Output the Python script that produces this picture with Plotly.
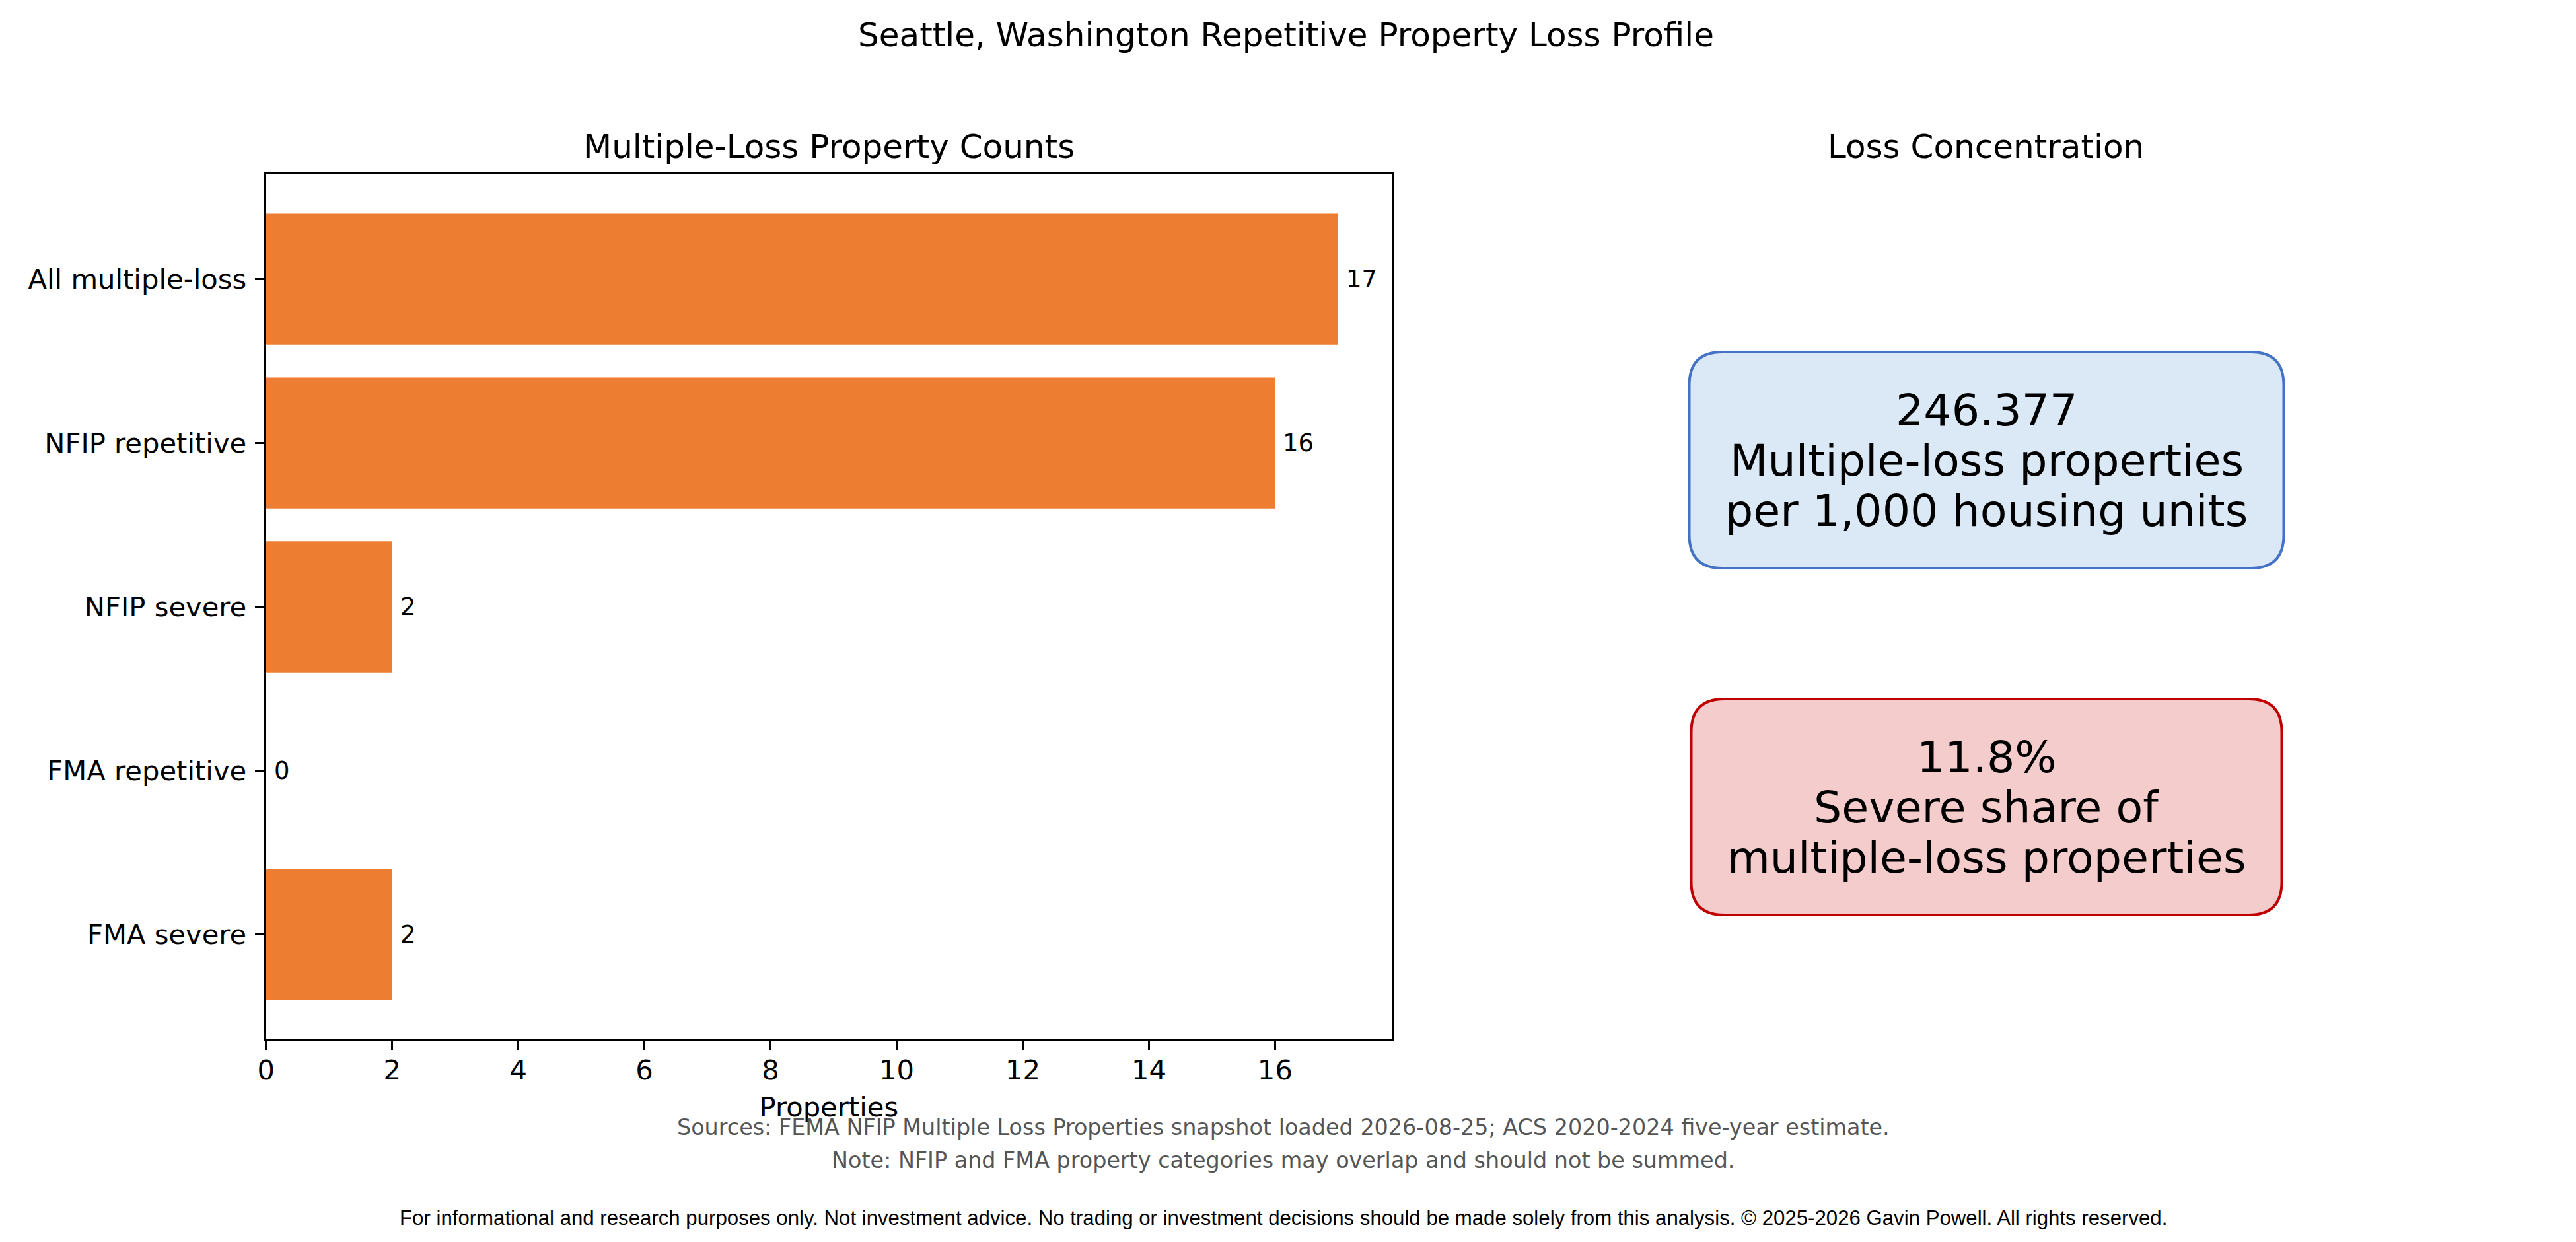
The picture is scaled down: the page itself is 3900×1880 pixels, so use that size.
import plotly.graph_objects as go

W, H = 3900, 1880
# the page puts the figure a little right/down of the window corner; compensate
OX, OY = 22, 10

# ---- data ----
categories = ["All multiple-loss", "NFIP repetitive", "NFIP severe", "FMA repetitive", "FMA severe"]
counts = [17, 16, 2, 0, 2]
x_ticks = [0, 2, 4, 6, 8, 10, 12, 14, 16]

kpi_values = ["246.377", "11.8%"]
kpi_labels = [["Multiple-loss properties", "per 1,000 housing units"],
              ["Severe share of", "multiple-loss properties"]]

title = "Seattle, Washington Repetitive Property Loss Profile"
sources_note = "Sources: FEMA NFIP Multiple Loss Properties snapshot loaded 2026-08-25; ACS 2020-2024 five-year estimate."
overlap_note = "Note: NFIP and FMA property categories may overlap and should not be summed."
disclaimer = ("For informational and research purposes only. Not investment advice. No trading or investment "
              "decisions should be made solely from this analysis. \u00a9 2025-2026 Gavin Powell. All rights reserved.")

BAR_COLOR = "#ED7D31"
FONT = "DejaVu Sans"


def px_x(v):
    return (v - OX) / W


def px_y(v):
    # pixel rows from the top -> paper y
    return 1 - (v - OY) / H


def rounded_box(x0, y0, x1, y1, r=50):
    # x0,y0 top-left / x1,y1 bottom-right in pixels, returns paper-coordinate path
    rx, ry = r / W, r / H
    a, b, c, d = px_x(x0), px_y(y1), px_x(x1), px_y(y0)
    return (f"M {a+rx},{b} L {c-rx},{b} Q {c},{b} {c},{b+ry} L {c},{d-ry} Q {c},{d} {c-rx},{d} "
            f"L {a+rx},{d} Q {a},{d} {a},{d-ry} L {a},{b+ry} Q {a},{b} {a+rx},{b} Z")


fig = go.Figure()
fig.add_trace(go.Bar(
    x=counts, y=categories, orientation="h",
    marker=dict(color=BAR_COLOR, line=dict(width=0)),
    width=0.8,
    hoverinfo="x+y",
))

axis_common = dict(showline=True, linecolor="black", linewidth=3.3, mirror=True,
                   ticks="outside", ticklen=14, tickwidth=3.3, tickcolor="black",
                   showgrid=False, zeroline=False,
                   tickfont=dict(family=FONT, size=41.7, color="black"))

fig.update_xaxes(domain=[px_x(405), px_x(2115)], range=[0, 17.85],
                 tickvals=x_ticks, ticklabelstandoff=-6,
                 title=dict(text="Properties", font=dict(family=FONT, size=41.7, color="black"), standoff=18),
                 **axis_common)
fig.update_yaxes(domain=[px_y(1575), px_y(266)], range=[4.64, -0.64],
                 categoryorder="array", categoryarray=categories,
                 ticklabelstandoff=4,
                 **axis_common)

# value labels next to the bars
annotations = []
for cat, c in zip(categories, counts):
    annotations.append(dict(text=str(c), x=c, y=cat, xref="x", yref="y", showarrow=False,
                            xanchor="left", yanchor="middle", xshift=10,
                            font=dict(family=FONT, size=37, color="black")))

page_texts = [
    dict(text=title, x=0.5 * W + 4, y=55, font=dict(size=50)),
    dict(text="Multiple-Loss Property Counts", x=(405 + 2115) / 2, y=224, font=dict(size=50)),
    dict(text="Loss Concentration", x=3017.5, y=224, font=dict(size=50)),
    dict(text=sources_note, x=0.5 * W, y=1708, font=dict(size=33.4, color="#555555")),
    dict(text=overlap_note, x=0.5 * W, y=1758, font=dict(size=33.4, color="#555555")),
    dict(text=disclaimer, x=0.5 * W, y=1845, font=dict(size=31.2, color="black", family="Liberation Sans")),
]

boxes = [
    ((2567, 535, 3470, 862), "#DAE9F5", "#4472C4"),
    ((2570, 1060, 3467, 1387), "#F4CCCC", "#C00000"),
]
shapes = []
for (bx, fill, edge), val, lab in zip(boxes, kpi_values, kpi_labels):
    x0, y0, x1, y1 = bx
    shapes.append(dict(type="path", xref="paper", yref="paper", path=rounded_box(x0, y0, x1, y1),
                       fillcolor=fill, line=dict(color=edge, width=4), layer="below"))
    cx, cy = (x0 + x1) / 2, (y0 + y1) / 2
    for i, line in enumerate([val] + lab):
        page_texts.append(dict(text=line, x=cx, y=cy + (i - 1) * 76, font=dict(size=66.6)))

for a in page_texts:
    a.update(x=px_x(a["x"]), y=px_y(a["y"]), xref="paper", yref="paper", showarrow=False,
             xanchor="center", yanchor="middle")
    a["font"] = dict(dict(family=FONT, color="black"), **a["font"])
    annotations.append(a)

fig.update_layout(
    width=W, height=H, autosize=False,
    margin=dict(l=0, r=0, t=0, b=0),
    paper_bgcolor="white", plot_bgcolor="white",
    showlegend=False,
    font=dict(family=FONT, color="black"),
    annotations=annotations, shapes=shapes,
)

fig.write_html("out.html")
